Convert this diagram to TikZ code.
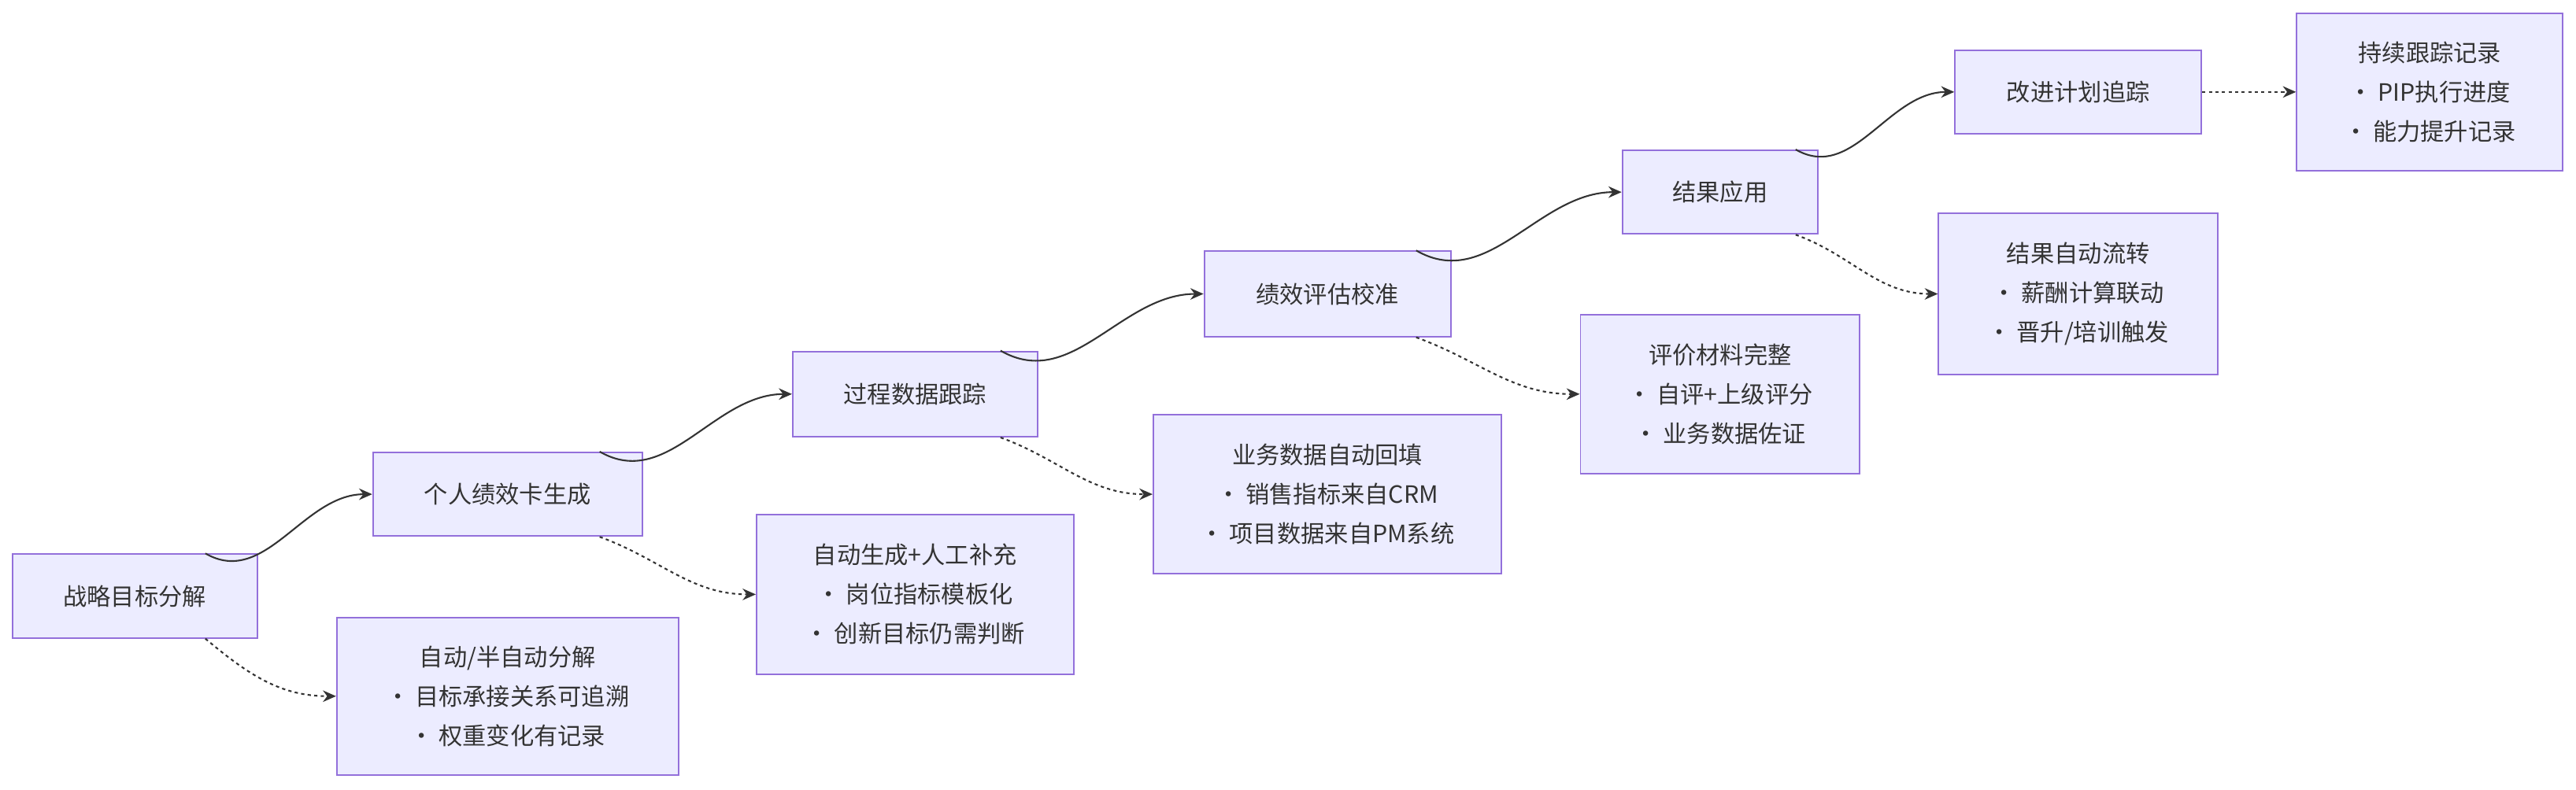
\documentclass[tikz,border=0pt]{standalone}
\usepackage{fontspec}
\setmainfont{Noto Sans CJK SC}
\usetikzlibrary{arrows.meta}
\definecolor{boxfill}{HTML}{ECECFF}
\definecolor{boxline}{HTML}{9370DB}
\definecolor{ink}{HTML}{333333}
\tikzset{
  box/.style={draw=boxline, fill=boxfill, line width=0.9pt, align=center,
    text=ink, font=\fontsize{14.5}{24}\selectfont, inner sep=0pt},
  flow/.style={draw=ink, line width=1pt, -{Stealth[length=8pt,width=7pt]}},
  note/.style={flow, dash pattern=on 2pt off 2pt}
}
\begin{document}
\begin{tikzpicture}[x=1pt,y=-1pt]
  \useasboundingbox (0,0) rectangle (1568,481);

  % steps
  \node[box, minimum width=149pt, minimum height=51pt] (goal) at (82,363) {战略目标分解};
  \node[box, minimum width=164pt, minimum height=51pt] (card) at (309,301) {个人绩效卡生成};
  \node[box, minimum width=149pt, minimum height=52pt] (track) at (557,240) {过程数据跟踪};
  \node[box, minimum width=150pt, minimum height=52pt] (review) at (808,179) {绩效评估校准};
  \node[box, minimum width=119pt, minimum height=51pt] (apply) at (1047,117) {结果应用};
  \node[box, minimum width=150pt, minimum height=51pt] (plan) at (1265,56) {改进计划追踪};

  % notes
  \node[box, minimum width=208pt, minimum height=96pt] (goalN) at (309,424) {自动/半自动分解\\• 目标承接关系可追溯\\• 权重变化有记录};
  \node[box, minimum width=193pt, minimum height=97pt] (cardN) at (557,362) {自动生成+人工补充\\• 岗位指标模板化\\• 创新目标仍需判断};
  \node[box, minimum width=212pt, minimum height=97pt] (trackN) at (808,301) {业务数据自动回填\\• 销售指标来自CRM\\• 项目数据来自PM系统};
  \node[box, minimum width=170pt, minimum height=97pt] (reviewN) at (1047,240) {评价材料完整\\• 自评+上级评分\\• 业务数据佐证};
  \node[box, minimum width=170pt, minimum height=98pt] (applyN) at (1265,179) {结果自动流转\\• 薪酬计算联动\\• 晋升/培训触发};
  \node[box, minimum width=162pt, minimum height=96pt] (planN) at (1479,56) {持续跟踪记录\\• PIP执行进度\\• 能力提升记录};

  % main flow
  \draw[flow] ([xshift=43pt]goal.north) to[out=-30,in=180] (card.west);
  \draw[flow] ([xshift=56pt]card.north) to[out=-30,in=180] (track.west);
  \draw[flow] ([xshift=52pt]track.north) to[out=-30,in=180] (review.west);
  \draw[flow] ([xshift=54pt]review.north) to[out=-30,in=180] (apply.west);
  \draw[flow] ([xshift=46pt]apply.north) to[out=-30,in=180] (plan.west);

  % side notes
  \draw[note] ([xshift=43pt]goal.south) to[out=-40,in=180] (goalN.west);
  \draw[note] ([xshift=56pt]card.south) to[out=-20,in=180] (cardN.west);
  \draw[note] ([xshift=52pt]track.south) to[out=-20,in=180] (trackN.west);
  \draw[note] ([xshift=54pt]review.south) to[out=-20,in=180] (reviewN.west);
  \draw[note] ([xshift=46pt]apply.south) to[out=-20,in=180] (applyN.west);
  \draw[note] (plan.east) -- (planN.west);
\end{tikzpicture}
\end{document}
